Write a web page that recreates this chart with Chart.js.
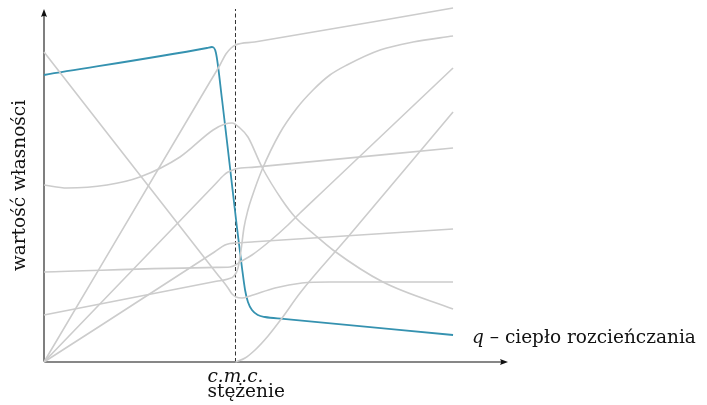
<!DOCTYPE html>
<html>
<head>
<meta charset="utf-8">
<script src="https://cdn.jsdelivr.net/npm/chart.js@4.4.1/dist/chart.umd.min.js"></script>
<style>
  html, body { margin: 0; padding: 0; background: #fff; }
  #wrap { width: 707px; height: 405px; }
</style>
</head>
<body>
<div id="wrap"><canvas id="cmcChart" width="707" height="405"></canvas></div>
<script>
// stężenie (x) is in arbitrary units, c.m.c. sits at x = 10
const cmc = 10;
const xAxisEnd = 24.23;
const yAxisEnd = 35.3;

// grey property curves, [concentration, value]
const curve1 = [[0, 0], [8.6, 27.8], [9.19, 29.7], [9.50, 30.8], [9.77, 31.4], [10, 31.7], [11, 32.0], [21.36, 35.4]];
const curve2 = [[0, 0], [8.9, 17.7], [9.40, 18.7], [9.61, 19.0], [9.82, 19.17], [10, 19.3], [11, 19.49], [21.36, 21.4]];
const curve3 = [[0, 0], [8.9, 11.0], [9.45, 11.7], [9.71, 11.85], [10, 11.9], [11, 12.02], [21.36, 13.3]];
const curve4 = [[0, 9.0], [9.0, 9.46], [9.71, 9.5], [10, 9.7], [10.23, 10.0], [10.86, 10.7], [11.80, 12.1], [12.74, 13.7], [13.37, 14.9], [14.5, 16.95], [21.36, 29.4]];
const curve5 = [[0, 4.7], [9.0, 8.07], [9.61, 8.3], [9.92, 8.6], [10.13, 9.4], [10.29, 11.2], [10.44, 13.4], [10.65, 15.2], [10.86, 16.5], [11.38, 19.2], [12.32, 22.9], [13.21, 25.4], [14.05, 27.2], [14.93, 28.7], [15.82, 29.7], [17.55, 31.2], [19.27, 32.0], [21.36, 32.6]];
const curve6 = [[10, 0], [10.50, 0.4], [11.02, 1.2], [11.70, 2.6], [12.43, 4.4], [13.37, 6.9], [15.87, 12.5], [21.36, 25.0]];
const curve7 = [[0, 31.0], [9.0, 8.9], [9.61, 7.4], [9.82, 6.8], [10.03, 6.5], [10.34, 6.4], [10.76, 6.6], [12.06, 7.4], [13.47, 7.9], [14.93, 8.0], [21.36, 8.0]];
const curve8 = [[0, 17.7], [1.20, 17.4], [3.29, 17.7], [5.01, 18.5], [7.10, 20.5], [8.83, 23.2], [9.45, 23.8], [9.82, 23.9], [10.23, 23.4], [10.65, 22.5], [11.38, 19.5], [12.43, 16.2], [13.11, 14.5], [14.15, 12.7], [15.09, 11.2], [17.70, 8.0], [21.36, 5.3]];
// highlighted curve: q - heat of dilution
const heatOfDilution = [[0, 28.7], [8.51, 31.4], [8.77, 31.5], [8.98, 30.9], [9.30, 26.2], [9.71, 19.5], [10.08, 13.4], [10.34, 9.4], [10.50, 7.2], [10.65, 6.0], [10.86, 5.2], [11.17, 4.7], [11.54, 4.5], [12.5, 4.32], [21.36, 2.7]];

const greyCurves = [curve1, curve2, curve3, curve4, curve5, curve6, curve7, curve8];

const xTitle = 'stężenie';
const yTitle = 'wartość własności';
const cmcLabel = 'c.m.c.';
const heatLabel = ['q', ' – ciepło rozcieńczania'];

const toPoints = arr => arr.map(p => ({ x: p[0], y: p[1] }));

const datasets = greyCurves.map(c => ({
    data: toPoints(c),
    borderColor: '#cccccc',
    borderWidth: 1.6,
    pointRadius: 0,
    cubicInterpolationMode: 'monotone',
    clip: false
}));

datasets.push({
    data: toPoints(heatOfDilution),
    borderColor: '#3592b0',
    borderWidth: 1.8,
    pointRadius: 0,
    cubicInterpolationMode: 'monotone',
    clip: false
});

// dashed marker at c.m.c.
datasets.push({
    data: [{ x: cmc, y: 0 }, { x: cmc, y: yAxisEnd }],
    borderColor: '#333333',
    borderWidth: 1,
    borderDash: [4, 2.5],
    pointRadius: 0,
    clip: false
});

function arrowHead(ctx, x, y, dir) {
    ctx.save();
    ctx.translate(x, y);
    ctx.rotate(dir);
    ctx.beginPath();
    ctx.moveTo(0, 0);
    ctx.lineTo(-8, -3);
    ctx.quadraticCurveTo(-6, 0, -8, 3);
    ctx.closePath();
    ctx.fillStyle = '#111';
    ctx.fill();
    ctx.restore();
}

const axesPlugin = {
    id: 'axesPlugin',
    beforeDatasetsDraw(chart) {
        const { ctx, scales: { x, y } } = chart;
        const x0 = x.getPixelForValue(0), y0 = y.getPixelForValue(0);
        const xEnd = x.getPixelForValue(xAxisEnd), yEnd = y.getPixelForValue(yAxisEnd);
        ctx.save();
        ctx.strokeStyle = '#606060';
        ctx.lineWidth = 1.6;
        ctx.beginPath();
        ctx.moveTo(x0, y0);
        ctx.lineTo(xEnd - 4, y0);
        ctx.moveTo(x0, y0);
        ctx.lineTo(x0, yEnd + 4);
        ctx.stroke();
        arrowHead(ctx, xEnd, y0, 0);
        arrowHead(ctx, x0, yEnd, -Math.PI / 2);
        ctx.restore();
    },
    afterDatasetsDraw(chart) {
        const { ctx, scales: { x, y } } = chart;
        const cmcPx = x.getPixelForValue(cmc);
        const y0 = y.getPixelForValue(0);
        const font = '18.5px "DejaVu Serif"';
        ctx.save();
        ctx.fillStyle = '#111';
        ctx.textBaseline = 'alphabetic';
        ctx.textAlign = 'left';

        ctx.font = 'italic ' + font;
        ctx.fillText(cmcLabel, cmcPx - 28, y0 + 20);
        ctx.font = font;
        ctx.fillText(xTitle, cmcPx - 28, y0 + 35);

        // label next to the end of the highlighted curve
        const last = heatOfDilution[heatOfDilution.length - 1];
        const lx = x.getPixelForValue(last[0]) + 19;
        const ly = y.getPixelForValue(last[1]) + 8;
        ctx.font = 'italic ' + font;
        ctx.fillText(heatLabel[0], lx, ly);
        const qw = ctx.measureText(heatLabel[0]).width;
        ctx.font = font;
        ctx.fillText(heatLabel[1], lx + qw, ly);

        // rotated y title
        const midY = (y.getPixelForValue(0) + y.getPixelForValue(yAxisEnd)) / 2;
        ctx.translate(25, midY);
        ctx.rotate(-Math.PI / 2);
        ctx.textAlign = 'center';
        ctx.fillText(yTitle, 0, 0);
        ctx.restore();
    }
};

new Chart(document.getElementById('cmcChart').getContext('2d'), {
    type: 'line',
    data: { datasets: datasets },
    options: {
        responsive: false,
        animation: false,
        events: [],
        layout: { padding: { left: 44, right: 199, top: 4, bottom: 43 } },
        plugins: {
            legend: { display: false },
            tooltip: { enabled: false }
        },
        scales: {
            x: { type: 'linear', min: 0, max: xAxisEnd, display: false },
            y: { type: 'linear', min: 0, max: 35.8, display: false }
        }
    },
    plugins: [axesPlugin]
});
</script>
</body>
</html>
